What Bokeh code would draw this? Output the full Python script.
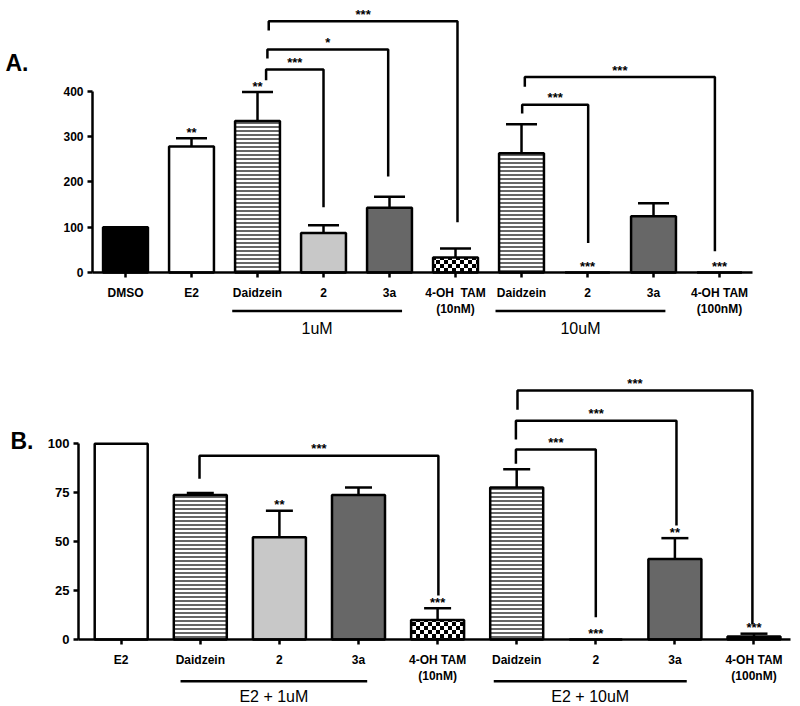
from bokeh.plotting import figure
from bokeh.layouts import column
from bokeh.models import (ColumnDataSource, LinearAxis, FixedTicker, Whisker, TeeHead,
                          Range1d, CanvasTexture)
from bokeh.embed import file_html
from bokeh.resources import INLINE
from bokeh.core.properties import value

# ---------------- Panel A data ----------------
a_labels = ["DMSO", "E2", "Daidzein", "2", "3a", "4-OH\u00a0 TAM\n(10nM)",
            "Daidzein", "2", "3a", "4-OH TAM\n(100nM)"]
a_values = [100, 278, 334, 87, 143, 33, 263, 0, 124, 0]
a_errors = [0, 18, 64, 17, 24, 20, 64, 0, 29, 0]
a_kind = ["black", "white", "lines", "light", "dark", "checker",
          "lines", "light", "dark", "checker"]
a_stars = ["", "**", "**", "", "", "", "", "***", "", "***"]
a_yticks = [0, 100, 200, 300, 400]
a_groups = ["1uM", "10uM"]
a_group_start = [1.617, 5.606]
a_group_end = [4.19, 8.18]
# significance brackets (x in category units, y in data units)
a_br_left = [2.13, 2.15, 2.17, 6.01, 6.05]
a_br_right = [3.0, 3.98, 5.03, 7.01, 8.93]
a_br_y = [448, 492, 554, 370, 431]
a_br_left_end = [424, 472, 534, 351, 410]
a_br_right_end = [144, 212, 111, 65, 47]
a_br_label = ["***", "*", "***", "***", "***"]

# ---------------- Panel B data ----------------
b_labels = ["E2", "Daidzein", "2", "3a", "4-OH TAM\n(10nM)",
            "Daidzein", "2", "3a", "4-OH TAM\n(100nM)"]
b_values = [100, 73.9, 52.3, 73.9, 10, 77.7, 0, 41.2, 1.5]
b_errors = [0, 0.9, 13.5, 3.8, 6, 9.3, 0, 10.6, 1.5]
b_kind = ["white", "lines", "light", "dark", "checker",
          "lines", "light", "dark", "black"]
b_stars = ["", "", "**", "", "***", "", "***", "**", "***"]
b_yticks = [0, 25, 50, 75, 100]
b_groups = ["E2 + 1uM", "E2 + 10uM"]
b_group_start = [0.75, 4.71]
b_group_end = [3.11, 7.15]
b_br_left = [0.99, 4.99, 4.99, 5.01]
b_br_right = [4.01, 6.0, 7.02, 7.98]
b_br_y = [93.9, 97.1, 111.8, 127.2]
b_br_left_end = [82.1, 89.8, 102.2, 117.4]
b_br_right_end = [22.5, 11.4, 58.3, 8.0]
b_br_label = ["***", "***", "***", "***"]

# ---------------- styles ----------------
FILL = {"black": "black", "white": "white", "lines": "white", "light": "#c8c8c8",
        "dark": "#676767", "checker": "white"}
HATCH = {"black": "blank", "white": "blank", "lines": "horizontal_line", "light": "blank",
         "dark": "blank", "checker": "checker"}
HSCALE = {"black": 4, "white": 4, "lines": 4, "light": 4, "dark": 4, "checker": 8}
FONT = "Liberation Sans"

checker_tex = CanvasTexture(code="""
const c = ctx.canvas;
c.width = 8;
c.height = 8;
ctx.clearRect(0, 0, 8, 8);
ctx.fillStyle = "black";
ctx.fillRect(0, 0, 4, 4);
ctx.fillRect(4, 4, 4, 4);
""")


def panel(width, height, xr, shift, yr, labels, values, errors, kinds, stars, yticks,
          bar_w, tee, ytick_size, groups, gstart, gend, gline_y, gtext_y,
          brl, brr, bry, brle, brre, brlab, letter, letter_xy, ybound):
    n = len(labels)
    p = figure(width=width, height=height,
               x_range=Range1d(start=xr[0], end=xr[1]),
               y_range=Range1d(start=yr[0], end=yr[1]),
               output_backend="svg", toolbar_location=None,
               x_axis_location=None, y_axis_location=None, min_border=0)
    p.outline_line_color = None
    p.grid.visible = False

    xs = list(range(n))
    src = ColumnDataSource(dict(
        x=xs, top=values,
        fill=[FILL[k] for k in kinds],
        hatch=[HATCH[k] for k in kinds],
        hscale=[HSCALE[k] for k in kinds],
    ))
    p.vbar(x="x", top="top", bottom=0, width=bar_w, source=src,
           fill_color="fill", hatch_pattern="hatch", hatch_scale="hscale",
           hatch_color="black", hatch_weight=1.2, hatch_extra={"checker": checker_tex},
           line_color="black", line_width=2.5)

    wx = [x for x, e in zip(xs, errors) if e > 0]
    wl = [v for v, e in zip(values, errors) if e > 0]
    wu = [v + e for v, e in zip(values, errors) if e > 0]
    wsrc = ColumnDataSource(dict(x=wx, lower=wl, upper=wu))
    p.add_layout(Whisker(source=wsrc, base="x", lower="lower", upper="upper",
                         line_color="black", line_width=2.5, lower_head=None,
                         upper_head=TeeHead(size=tee, line_color="black", line_width=2.5)))

    # stars above bars
    sx = [x for x, s in zip(xs, stars) if s]
    sy = [v + e for v, e, s in zip(values, errors, stars) if s]
    st = [s for s in stars if s]
    p.text(x=sx, y=sy, text=st, text_align="center", text_baseline="middle",
           y_offset=-6, text_font=value(FONT), text_font_style="bold",
           text_font_size="13px", text_color="black")

    # brackets
    bxs = [[l, l, r, r] for l, r in zip(brl, brr)]
    bys = [[le, y, y, re] for le, y, re in zip(brle, bry, brre)]
    p.multi_line(xs=bxs, ys=bys, line_color="black", line_width=2.5)
    p.text(x=[(l + r) / 2 for l, r in zip(brl, brr)], y=bry, text=brlab,
           text_align="center", text_baseline="middle", y_offset=-7,
           text_font=value(FONT), text_font_style="bold", text_font_size="13px",
           text_color="black")

    # group underlines and labels
    p.segment(x0=gstart, y0=[gline_y] * len(groups), x1=gend, y1=[gline_y] * len(groups),
              line_color="black", line_width=2.5)
    p.text(x=[(a + b) / 2 for a, b in zip(gstart, gend)], y=[gtext_y] * len(groups),
           text=groups, text_align="center", text_baseline="middle",
           text_font=value(FONT), text_font_size="16px", text_color="black")

    # panel letter
    p.text(x=[letter_xy[0]], y=[letter_xy[1]], text=[letter], text_align="left",
           text_baseline="middle", text_font=value(FONT), text_font_style="bold",
           text_font_size="23px", text_color="black")

    # axes
    xax = LinearAxis(fixed_location=0, ticker=FixedTicker(ticks=xs),
                     major_label_overrides={i: lab for i, lab in enumerate(labels)},
                     bounds=(-0.5 + shift, n - 0.5 + shift))
    yax = LinearAxis(fixed_location=-0.5 + shift, ticker=FixedTicker(ticks=yticks),
                     bounds=ybound)
    for ax, fs in ((xax, "12px"), (yax, ytick_size)):
        ax.axis_line_width = 2.5
        ax.axis_line_color = "black"
        ax.major_tick_line_width = 2.5
        ax.major_tick_line_color = "black"
        ax.major_tick_in = 0
        ax.major_tick_out = 5
        ax.minor_tick_line_color = None
        ax.major_label_text_font = FONT
        ax.major_label_text_font_style = "bold"
        ax.major_label_text_font_size = fs
        ax.major_label_text_color = "black"
    xax.major_label_standoff = 8
    yax.major_label_standoff = 4
    p.add_layout(xax, "below")
    p.add_layout(yax, "left")
    return p


pa = panel(800, 346, (-1.894, 10.227), 0.0, (-163.2, 600.0),
           a_labels, a_values, a_errors, a_kind, a_stars, a_yticks,
           0.68, 31, "12px", a_groups, a_group_start, a_group_end, -85.0, -124.5,
           a_br_left, a_br_right, a_br_y, a_br_left_end, a_br_right_end, a_br_label,
           "A.", (-1.82, 463), (0, 400))

pb = panel(800, 360, (-1.526, 8.588), -0.04, (-34.2, 149.7),
           b_labels, b_values, b_errors, b_kind, b_stars, b_yticks,
           0.67, 27, "13px", b_groups, b_group_start, b_group_end, -21.3, -29.1,
           b_br_left, b_br_right, b_br_y, b_br_left_end, b_br_right_end, b_br_label,
           "B.", (-1.40, 101.2), (0, 100))

layout = column(pa, pb, spacing=0)
open("out.html", "w").write(file_html(layout, INLINE))
